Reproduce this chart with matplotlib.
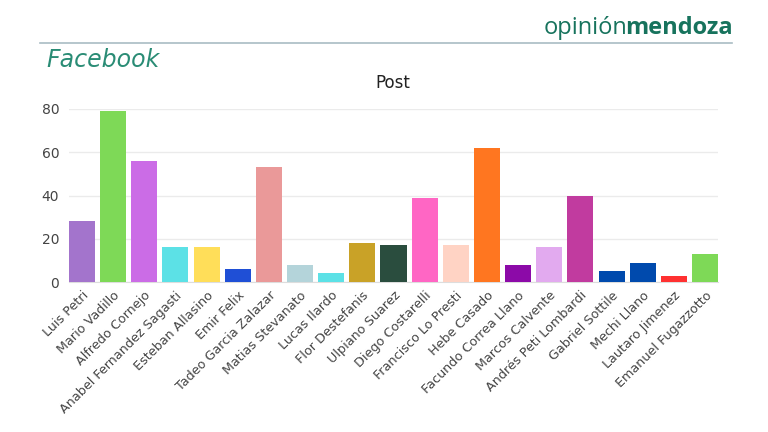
import numpy as np
import matplotlib.pyplot as plt

names = ["Luis Petri", "Mario Vadillo", "Alfredo Cornejo", "Anabel Fernandez Sagasti",
         "Esteban Allasino", "Emir Felix", "Tadeo Garcia Zalazar", "Matias Stevanato",
         "Lucas Ilardo", "Flor Destefanis", "Ulpiano Suarez", "Diego Costarelli",
         "Francisco Lo Presti", "Hebe Casado", "Facundo Correa Llano", "Marcos Calvente",
         "Andrés Peti Lombardi", "Gabriel Sottile", "Mechi Llano", "Lautaro Jimenez",
         "Emanuel Fugazzotto"]
posts = [28, 79, 56, 16, 16, 6, 53, 8, 4, 18, 17, 39, 17, 62, 8, 16, 40, 5, 9, 3, 13]
colors = ["#a374cc", "#7ed957", "#cb6ce6", "#5ce1e6", "#ffde59", "#1f4fd6", "#ea9999",
          "#b4d4da", "#5ce1e6", "#c9a227", "#2a4d3e", "#ff66c4", "#ffd3c4", "#ff7620",
          "#8c0aa8", "#e2aaef", "#c13b9f", "#004aad", "#004aad", "#ff3131", "#7ed957"]
yticks = [0, 20, 40, 60, 80]

fig = plt.figure(figsize=(7.68, 4.32), dpi=100)
ax = fig.add_axes([69 / 768, 150 / 432, 649 / 768, 173 / 432])

w = 0.835
x = np.arange(len(names))
ax.bar(x, posts, width=w, color=colors, zorder=3)
ax.set_xlim(-w / 2, len(names) - 1 + w / 2)
ax.set_ylim(0, 80)
ax.set_yticks(yticks)
ax.grid(axis='y', color='#ebebeb', linewidth=1, zorder=0)
for s in ['top', 'right', 'left']:
    ax.spines[s].set_visible(False)
ax.spines['bottom'].set_color('#dddddd')
ax.tick_params(axis='both', length=0, colors='#444444', labelsize=10)
ax.tick_params(axis='y', pad=7)
ax.tick_params(axis='x', pad=5)
ax.set_xticks(x)
ax.set_xticklabels(names, rotation=45, ha='right', rotation_mode='anchor', fontsize=9.2,
                   color='#444444')

fig.text(393 / 768, 1 - 83 / 432, "Post", ha='center', va='center', fontsize=12,
         color='#222222')
fig.text(46 / 768, 1 - 60 / 432, "Facebook", ha='left', va='center', fontsize=17,
         style='italic', color='#2a8c75')

# header line + logo
fig.add_artist(plt.Line2D([40 / 768, 732 / 768], [1 - 43 / 432, 1 - 43 / 432],
                          color='#a9bcc4', linewidth=1.2))
t2 = fig.text(733 / 768, 1 - 28 / 432, "mendoza", ha='right', va='center', fontsize=17,
              fontweight='bold', color='#17735d', family='Open Sans')
fig.canvas.draw()
bb = t2.get_window_extent()
fig.text((bb.x0 + 2) / 768, 1 - 28 / 432, "opinión", ha='right', va='center', fontsize=17,
         color='#17735d', family='Open Sans')

fig.savefig('out.png', dpi=100)
